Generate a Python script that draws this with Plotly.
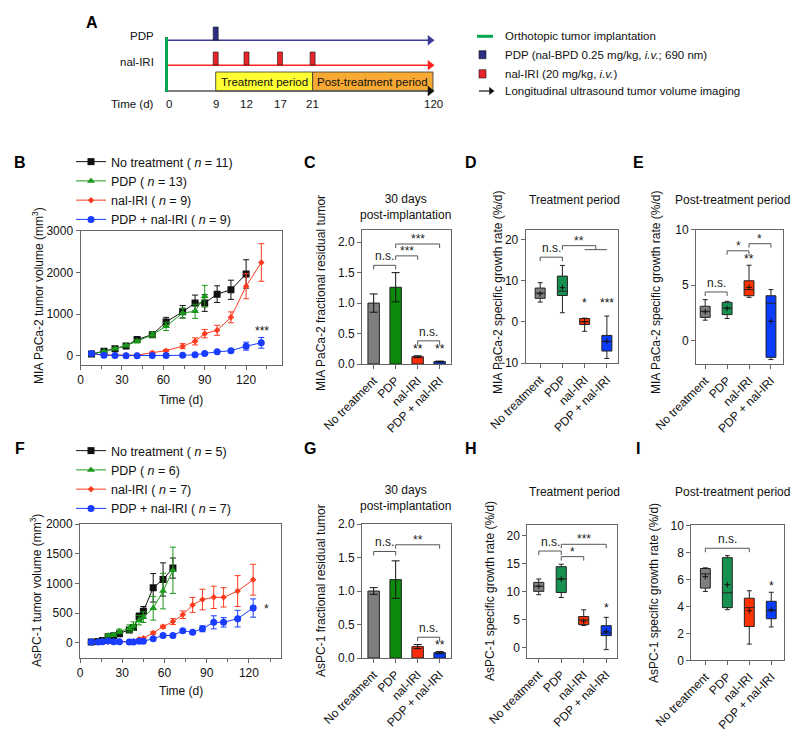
import plotly.graph_objects as go

W, H = 800, 732
FONT = "Arial, Liberation Sans, Helvetica, sans-serif"
AXC = "#666666"
TXT = "#111111"


def X(p):
    return p / W


def Y(p):
    return 1 - p / H


# ---------------------------------------------------------------- data
groups = ["No treatment", "PDP", "nal-IRI", "PDP + nal-IRI"]
bar_colors = ["#7f7f7f", "#0b8a0b", "#ff2a0a", "#0a3cff"]
box_colors = ["#7f7f7f", "#179150", "#ff3300", "#0a3cff"]

# Panel A schedule
schedule_days = [0, 9, 12, 17, 21, 120]
pdp_days = [9]
iri_days = [9, 12, 17, 21]

# Panel B: MIA PaCa-2 tumour volume (mm3)
mia_t = [8, 17, 25, 33, 41, 52, 62, 74, 83, 90, 99, 109, 120, 131]
mia_nt = [48, 112, 175, 240, 395, 510, 815, 1058, 1268, 1268, 1480, 1585, 1965]
mia_nt_err = [10, 20, 25, 30, 40, 60, 110, 150, 190, 200, 200, 230, 340]
mia_pdp = [48, 105, 175, 250, 350, 510, 710, 1030, 1070, 1430]
mia_pdp_err = [10, 20, 25, 30, 40, 60, 100, 120, 170, 260]
mia_iri = [48, 25, 25, 20, 20, 80, 127, 235, 350, 535, 615, 925, 1670, 2240]
mia_iri_err = [5, 5, 5, 5, 5, 15, 25, 60, 85, 100, 120, 130, 300, 450]
mia_combo = [60, 20, 10, 8, 8, 10, 12, 15, 30, 60, 100, 125, 235, 315]
mia_combo_err = [10, 5, 3, 3, 3, 3, 5, 5, 10, 15, 20, 25, 95, 128]

# Panel C: MIA PaCa-2 fractional residual tumour at day 30
mia_frac = [1.0, 1.26, 0.12, 0.04]
mia_frac_err = [0.15, 0.24, 0.015, 0.008]

# Panel D: MIA PaCa-2 growth rate, treatment period (%/d)
mia_tx_lo = [4.8, 2.2, -2.3, -8.9]
mia_tx_q1 = [5.7, 6.4, -0.65, -7.1]
mia_tx_med = [7.0, 7.45, 0.05, -4.8]
mia_tx_q3 = [8.2, 11.1, 0.8, -3.3]
mia_tx_hi = [9.5, 13.7, 0.9, 1.4]
mia_tx_mean = [6.8, 8.3, 0.0, -4.7]

# Panel E: MIA PaCa-2 growth rate, post-treatment period (%/d)
mia_post_lo = [1.85, 2.0, 3.9, -1.7]
mia_post_q1 = [2.1, 2.35, 4.05, -1.5]
mia_post_med = [2.65, 2.95, 4.6, 3.37]
mia_post_q3 = [3.1, 3.45, 5.4, 4.05]
mia_post_hi = [3.7, 3.55, 6.8, 4.6]
mia_post_mean = [2.6, 2.9, 4.8, 1.75]

# Panel F: AsPC-1 tumour volume (mm3)
asp_t = [8, 13, 16, 20, 24, 28, 35, 38, 42, 45, 52, 59, 66, 73, 80, 87, 95, 102, 112, 123]
asp_nt = [10, 20, 35, 100, 115, 150, 215, 255, 440, 530, 925, 1065, 1257]
asp_nt_err = [3, 5, 8, 15, 20, 25, 30, 40, 60, 80, 240, 280, 170]
asp_pdp = [10, 15, 30, 120, 130, 190, 240, 280, 380, 430, 580, 870, 1220]
asp_pdp_err = [3, 5, 8, 20, 25, 40, 60, 70, 80, 90, 200, 300, 390]
asp_iri = [10, 10, 15, 20, 15, 15, 15, 20, 60, 75, 165, 270, 355, 471, 637, 727, 764, 764, 870, 1061]
asp_iri_err = [2, 2, 3, 3, 3, 3, 4, 5, 10, 12, 20, 25, 50, 64, 126, 174, 188, 163, 260, 260]
asp_combo = [12, 10, 15, 30, 15, 15, 12, 12, 25, 25, 67, 122, 122, 200, 175, 235, 343, 343, 405, 584]
asp_combo_err = [2, 2, 3, 5, 3, 3, 3, 3, 5, 5, 10, 15, 15, 20, 25, 50, 110, 79, 140, 154]

# Panel G: AsPC-1 fractional residual tumour at day 30
asp_frac = [1.0, 1.17, 0.17, 0.08]
asp_frac_err = [0.05, 0.28, 0.03, 0.015]

# Panel H: AsPC-1 growth rate, treatment period (%/d)
asp_tx_lo = [9.5, 9.0, 4.0, -0.3]
asp_tx_q1 = [10.1, 9.9, 4.15, 2.2]
asp_tx_med = [11.0, 12.3, 5.0, 2.67]
asp_tx_q3 = [11.7, 14.5, 5.6, 3.97]
asp_tx_hi = [12.3, 14.95, 6.8, 5.46]
asp_tx_mean = [11.0, 12.3, 4.75, 2.97]

# Panel I: AsPC-1 growth rate, post-treatment period (%/d)
asp_post_lo = [5.1, 3.75, 1.2, 2.47]
asp_post_q1 = [5.35, 3.9, 2.5, 3.08]
asp_post_med = [6.4, 5.0, 3.9, 3.67]
asp_post_q3 = [6.8, 7.6, 4.6, 4.37]
asp_post_hi = [6.85, 7.75, 5.15, 5.04]
asp_post_mean = [6.2, 5.6, 3.67, 3.75]

# ---------------------------------------------------------------- figure
fig = go.Figure()
layout = {}
annotations = []
shapes = []

PX_PER_UNIT = {}


def make_axes(idx, l, r, t, b, xr, yr, xopts=None, yopts=None, visible=True):
    xname = "xaxis" if idx == 1 else f"xaxis{idx}"
    yname = "yaxis" if idx == 1 else f"yaxis{idx}"
    xref = "x" if idx == 1 else f"x{idx}"
    yref = "y" if idx == 1 else f"y{idx}"
    base = dict(showline=True, linecolor=AXC, linewidth=1, mirror=True,
                ticks="outside", ticklen=4, tickcolor=AXC, tickwidth=1,
                showgrid=False, zeroline=False, fixedrange=True, automargin=False,
                tickfont=dict(size=12, color=TXT, family=FONT), visible=visible)
    layout[xname] = dict(base, domain=[X(l), X(r)], range=xr, anchor=yref, **(xopts or {}))
    layout[yname] = dict(base, domain=[Y(b), Y(t)], range=yr, anchor=xref, **(yopts or {}))
    PX_PER_UNIT[yref] = (b - t) / abs(yr[1] - yr[0])
    return xref, yref


def text(x, y, s, size=12, xanchor="center", yanchor="middle", angle=0,
         xref="paper", yref="paper", bold=False, family=FONT, color=TXT, yshift=0):
    if bold:
        s = f"<b>{s}</b>"
    if xref == "paper":
        x = X(x)
    if yref == "paper":
        y = Y(y)
    annotations.append(dict(x=x, y=y, xref=xref, yref=yref, text=s, showarrow=False,
                            xanchor=xanchor, yanchor=yanchor, textangle=angle,
                            font=dict(size=size, family=family, color=color), yshift=yshift))


def bracket(xref, yref, x0, x1, y, label, tick_px=4, sub=None):
    d = tick_px / PX_PER_UNIT[yref]
    path = f"M {x0},{y - d} L {x0},{y} L {x1},{y} L {x1},{y - d}"
    if sub is not None:
        path += f" M {sub[0]},{y - d} L {sub[1]},{y - d}"
    shapes.append(dict(type="path", path=path, xref=xref, yref=yref,
                       line=dict(color="#555555", width=1)))
    star = label.startswith("*")
    text((x0 + x1) / 2, y, label, size=12, xref=xref, yref=yref,
         yanchor="bottom", yshift=-4 if star else 0, color="#222222")


def boxes(xref, yref, lo, q1, med, q3, hi, mean):
    for i in range(4):
        fig.add_trace(go.Box(x=[i], lowerfence=[lo[i]], q1=[q1[i]], median=[med[i]],
                             q3=[q3[i]], upperfence=[hi[i]], fillcolor=box_colors[i],
                             line=dict(color="#222222", width=1), width=0.45,
                             whiskerwidth=0.5, boxpoints=False, showlegend=False,
                             hoverinfo="skip", xaxis=xref, yaxis=yref))
    fig.add_trace(go.Scatter(x=list(range(4)), y=mean, mode="markers",
                             marker=dict(symbol="cross-thin", size=4, color="#111",
                                         line=dict(width=1, color="#111")),
                             showlegend=False, hoverinfo="skip", xaxis=xref, yaxis=yref))


def bars(xref, yref, vals, err):
    fig.add_trace(go.Bar(x=list(range(4)), y=vals, width=0.52,
                         marker=dict(color=bar_colors, line=dict(color="#222222", width=1)),
                         error_y=dict(type="data", array=err, visible=True, color="#111",
                                      thickness=1, width=4),
                         showlegend=False, hoverinfo="skip", xaxis=xref, yaxis=yref))


cat_x = dict(tickvals=[0, 1, 2, 3], ticktext=groups, tickangle=-45)

# ---------------------------------------------------------------- Panel A (schematic)
ax_a, ay_a = make_axes(1, 0, 800, 0, 105, [0, 800], [105, 0], visible=False)
TL_X = dict(zip(schedule_days, [160.5, 207.7, 238.5, 272, 304.6, 425]))
t_end = TL_X[schedule_days[-1]]
t_start = TL_X[schedule_days[0]] - 2


def arrow(x0, x1, y, color, head_color=None, width=1.5, head=9):
    fig.add_trace(go.Scatter(x=[x0, x1 - 4], y=[y, y], mode="lines",
                             line=dict(color=color, width=width), showlegend=False,
                             hoverinfo="skip", xaxis=ax_a, yaxis=ay_a))
    fig.add_trace(go.Scatter(x=[x1 - 3], y=[y], mode="markers",
                             marker=dict(symbol="triangle-right", size=head,
                                         color=head_color or color, line=dict(width=0)),
                             showlegend=False, hoverinfo="skip", xaxis=ax_a, yaxis=ay_a))


shapes.append(dict(type="rect", xref=ax_a, yref=ay_a, x0=TL_X[9], x1=TL_X[21], y0=64, y1=83,
                   fillcolor="#ffff33", line=dict(color="#333", width=0.8), layer="below"))
shapes.append(dict(type="rect", xref=ax_a, yref=ay_a, x0=TL_X[21], x1=t_end, y0=64, y1=83,
                   fillcolor="#f7a934", line=dict(color="#333", width=0.8), layer="below"))
arrow(t_start, t_end, 32.3, "#3b3b98")
arrow(t_start, t_end, 57.3, "#ff2222")
arrow(t_start, t_end, 83, "#555555", head_color="#111111")
fig.add_trace(go.Scatter(x=[t_start, t_start], y=[29, 84], mode="lines",
                         line=dict(color="#00a651", width=3), showlegend=False,
                         hoverinfo="skip", xaxis=ax_a, yaxis=ay_a))
for d in pdp_days:
    shapes.append(dict(type="rect", xref=ax_a, yref=ay_a, x0=TL_X[d] - 2.5, x1=TL_X[d] + 2.5,
                       y0=19, y1=32, fillcolor="#2b2e83", line=dict(color="#111", width=0.6)))
for d in iri_days:
    shapes.append(dict(type="rect", xref=ax_a, yref=ay_a, x0=TL_X[d] - 2.5, x1=TL_X[d] + 2.5,
                       y0=44, y1=57, fillcolor="#e8242b", line=dict(color="#111", width=0.6)))
text((TL_X[9] + TL_X[21]) / 2, 73.5, "Treatment period", size=11.5, xref=ax_a, yref=ay_a)
text((TL_X[21] + t_end) / 2, 73.5, "Post-treatment period", size=11.5, xref=ax_a, yref=ay_a)
text(148, 28, "PDP", size=11.5, xanchor="right", xref=ax_a, yref=ay_a)
text(148, 54, "nal-IRI", size=11.5, xanchor="right", xref=ax_a, yref=ay_a)
text(148, 96, "Time (d)", size=11.5, xanchor="right", xref=ax_a, yref=ay_a)
for d in schedule_days:
    text(TL_X[d], 96, str(d), size=11.5, xref=ax_a, yref=ay_a)

# legend of panel A
fig.add_trace(go.Scatter(x=[469, 485], y=[28.3, 28.3], mode="lines",
                         line=dict(color="#00a651", width=3), showlegend=False,
                         hoverinfo="skip", xaxis=ax_a, yaxis=ay_a))
shapes.append(dict(type="rect", xref=ax_a, yref=ay_a, x0=471, x1=478, y0=42.7, y1=50.7,
                   fillcolor="#2b2e83", line=dict(color="#111", width=0.6)))
shapes.append(dict(type="rect", xref=ax_a, yref=ay_a, x0=471, x1=478, y0=61.7, y1=70,
                   fillcolor="#e8242b", line=dict(color="#111", width=0.6)))
arrow(471, 486, 83, "#111111", width=1.2, head=7)
legA = ["Orthotopic tumor implantation",
        "PDP (nal-BPD 0.25 mg/kg, <i>i.v.</i>; 690 nm)",
        "nal-IRI (20 mg/kg, <i>i.v.</i>)",
        "Longitudinal ultrasound tumor volume imaging"]
for s, yy in zip(legA, [28.3, 46.7, 65.7, 83]):
    text(495, yy, s, size=11.5, xanchor="left", xref=ax_a, yref=ay_a)

# ---------------------------------------------------------------- Panel B
time_x = dict(tick0=0, dtick=30, minor=dict(dtick=15, ticklen=3, tickcolor=AXC, ticks="outside"))
xb, yb = make_axes(2, 72.5, 274, 222.7, 357, [0, 146], [-216, 3000], time_x,
                   dict(tickvals=[0, 1000, 2000, 3000]))


def growth(xref, yref, t, v, e, name, color, symbol, size, legend):
    fig.add_trace(go.Scatter(x=t[:len(v)], y=v, name=name, mode="lines+markers",
                             line=dict(color=color, width=1),
                             marker=dict(symbol=symbol, size=size, color=color),
                             error_y=dict(type="data", array=e, color=color, thickness=1, width=3),
                             xaxis=xref, yaxis=yref, legend=legend, hoverinfo="skip"))


growth(xb, yb, mia_t, mia_nt, mia_nt_err, "No treatment ( <i>n</i> = 11)", "#111111", "square", 7, "legend")
growth(xb, yb, mia_t, mia_pdp, mia_pdp_err, "PDP ( <i>n</i> = 13)", "#1a9a1a", "triangle-up", 7, "legend")
growth(xb, yb, mia_t, mia_iri, mia_iri_err, "nal-IRI ( <i>n</i> = 9)", "#ff3b1f", "diamond", 5, "legend")
growth(xb, yb, mia_t, mia_combo, mia_combo_err, "PDP + nal-IRI ( <i>n</i> = 9)", "#1a3cff", "circle", 7, "legend")
text(131.5, 610, "***", xref=xb, yref=yb)
text(173, 392, "Time (d)")
text(30, 288, "MIA PaCa-2 tumor volume (mm<sup>3</sup>)", angle=-90)

# ---------------------------------------------------------------- Panel C
xc, yc = make_axes(3, 354, 443.3, 222, 356, [-0.53, 3.53], [0, 2.2], cat_x,
                   dict(tickvals=[0, 0.5, 1, 1.5, 2], tickformat=".1f"))
bars(xc, yc, mia_frac, mia_frac_err)
bracket(xc, yc, 0, 1, 1.62, "n.s.")
bracket(xc, yc, 1, 2, 1.775, "***")
bracket(xc, yc, 1, 3, 1.97, "***")
bracket(xc, yc, 2, 3, 0.38, "n.s.")
text(2, 0.25, "**", xref=xc, yref=yc)
text(3, 0.25, "**", xref=xc, yref=yc)
text(397, 199, "30 days<br>post-implantation")
text(313, 285, "MIA PaCa-2 fractional residual tumor", angle=-90)

# ---------------------------------------------------------------- Panel D
xd, yd = make_axes(4, 517.7, 610, 222, 355, [-0.65, 3.5], [-10, 22.3], cat_x,
                   dict(tickvals=[-10, 0, 10, 20]))
boxes(xd, yd, mia_tx_lo, mia_tx_q1, mia_tx_med, mia_tx_q3, mia_tx_hi, mia_tx_mean)
bracket(xd, yd, 0, 1, 15.7, "n.s.")
bracket(xd, yd, 1, 2.5, 18.5, "**", sub=(2, 3))
text(2, 4.6, "*", xref=xd, yref=yd)
text(3, 4.6, "***", xref=xd, yref=yd)
text(566, 192, "Treatment period")
text(490, 285, "MIA PaCa-2 specific growth rate (%/d)", angle=-90)

# ---------------------------------------------------------------- Panel E
xe, ye = make_axes(5, 688, 775, 221.7, 356, [-0.42, 3.55], [-2.1, 10], cat_x,
                   dict(tickvals=[0, 5, 10]))
boxes(xe, ye, mia_post_lo, mia_post_q1, mia_post_med, mia_post_q3, mia_post_hi, mia_post_mean)
bracket(xe, ye, 0, 1, 4.39, "n.s.")
bracket(xe, ye, 1, 2, 8.1, "*")
bracket(xe, ye, 2, 3, 8.74, "*")
text(2, 7.39, "**", xref=xe, yref=ye)
text(724, 192, "Post-treatment period")
text(648, 285, "MIA PaCa-2 specific growth rate (%/d)", angle=-90)

# ---------------------------------------------------------------- Panel F
xf, yf = make_axes(6, 72, 273.3, 516, 649.7, [0, 143], [-253, 2000], time_x,
                   dict(tickvals=[0, 500, 1000, 1500, 2000]))
growth(xf, yf, asp_t, asp_nt, asp_nt_err, "No treatment ( <i>n</i> = 5)", "#111111", "square", 7, "legend2")
growth(xf, yf, asp_t, asp_pdp, asp_pdp_err, "PDP ( <i>n</i> = 6)", "#1a9a1a", "triangle-up", 7, "legend2")
growth(xf, yf, asp_t, asp_iri, asp_iri_err, "nal-IRI ( <i>n</i> = 7)", "#ff3b1f", "diamond", 5, "legend2")
growth(xf, yf, asp_t, asp_combo, asp_combo_err, "PDP + nal-IRI ( <i>n</i> = 7)", "#1a3cff", "circle", 7, "legend2")
text(132.5, 560, "*", xref=xf, yref=yf)
text(173, 683, "Time (d)")
text(28, 583, "AsPC-1 tumor volume (mm<sup>3</sup>)", angle=-90)

# ---------------------------------------------------------------- Panel G
xg, yg = make_axes(7, 354, 443.3, 516, 650, [-0.53, 3.53], [0, 2.0], cat_x,
                   dict(tickvals=[0, 0.5, 1, 1.5, 2], tickformat=".1f"))
bars(xg, yg, asp_frac, asp_frac_err)
bracket(xg, yg, 0, 1, 1.59, "n.s.")
bracket(xg, yg, 1, 3, 1.69, "**")
bracket(xg, yg, 2, 3, 0.31, "n.s.")
text(3, 0.19, "**", xref=xg, yref=yg)
text(397, 490, "30 days<br>post-implantation")
text(313, 583, "AsPC-1 fractional residual tumor", angle=-90)

# ---------------------------------------------------------------- Panel H
xh, yh = make_axes(8, 519.3, 609, 516.7, 650, [-0.51, 3.48], [-1.8, 22], cat_x,
                   dict(tickvals=[0, 5, 10, 15, 20]))
boxes(xh, yh, asp_tx_lo, asp_tx_q1, asp_tx_med, asp_tx_q3, asp_tx_hi, asp_tx_mean)
bracket(xh, yh, 0, 1, 17.3, "n.s.")
bracket(xh, yh, 1, 2, 16.3, "*")
bracket(xh, yh, 1, 3, 18.5, "***")
text(3, 7.2, "*", xref=xh, yref=yh)
text(566, 484, "Treatment period")
text(482, 583, "AsPC-1 specific growth rate (%/d)", angle=-90)

# ---------------------------------------------------------------- Panel I
xi, yi = make_axes(9, 683.3, 776, 517.3, 652.3, [-0.64, 3.58], [0, 10], cat_x,
                   dict(tickvals=[0, 2, 4, 6, 8, 10]))
boxes(xi, yi, asp_post_lo, asp_post_q1, asp_post_med, asp_post_q3, asp_post_hi, asp_post_mean)
bracket(xi, yi, 0, 2, 8.3, "n.s.")
text(3, 5.5, "*", xref=xi, yref=yi)
text(724, 484, "Post-treatment period")
text(646, 585, "AsPC-1 specific growth rate (%/d)", angle=-90)

# ---------------------------------------------------------------- panel letters
for lab, (lx, ly) in {"A": (84, 15), "B": (12, 155), "C": (302, 155), "D": (463, 155),
                      "E": (630, 155), "F": (12, 440), "G": (302, 440), "H": (463, 440),
                      "I": (630, 440)}.items():
    text(lx, ly, lab, size=16, bold=True, family=FONT, color="#000")

legend_style = dict(xanchor="left", yanchor="top", bgcolor="rgba(0,0,0,0)",
                    font=dict(size=12.5, family=FONT, color=TXT), tracegroupgap=0,
                    itemwidth=30, traceorder="normal")
layout["legend"] = dict(legend_style, x=X(63), y=Y(139))
layout["legend2"] = dict(legend_style, x=X(63), y=Y(428))

fig.update_layout(template="none", width=W, height=H, margin=dict(l=0, r=0, t=0, b=0, pad=0),
                  paper_bgcolor="white", plot_bgcolor="white", showlegend=True,
                  font=dict(family=FONT, size=12, color=TXT),
                  annotations=annotations, shapes=shapes, boxmode="overlay", **layout)
fig.write_html("out.html")
